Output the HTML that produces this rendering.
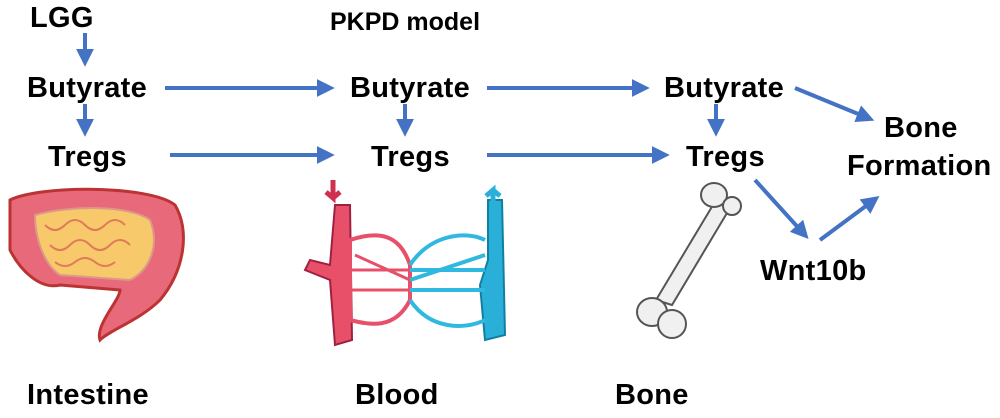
<!DOCTYPE html>
<html><head><meta charset="utf-8"><style>
html,body{margin:0;padding:0;background:#fff;}
body{width:1000px;height:418px;overflow:hidden;position:relative;font-family:"Liberation Sans",sans-serif;}
.t{position:absolute;font-weight:bold;font-size:29px;color:#000;white-space:nowrap;line-height:1;letter-spacing:0.3px;}
svg{position:absolute;left:0;top:0;}
</style></head><body>
<svg width="1000" height="418" viewBox="0 0 1000 418">
<defs><marker id="a" markerWidth="4.5" markerHeight="4.5" refX="2.8" refY="2.25" orient="auto" markerUnits="strokeWidth"><path d="M0,0 L4.5,2.25 L0,4.5 z" fill="#4472C4"/></marker></defs>
<g stroke="#4472C4" stroke-width="4" fill="none" marker-end="url(#a)">
<line x1="85" y1="33" x2="85" y2="60"/>
<line x1="85" y1="104" x2="85" y2="130"/>
<line x1="165" y1="88" x2="328" y2="88"/>
<line x1="170" y1="155" x2="328" y2="155"/>
<line x1="405" y1="104" x2="405" y2="130"/>
<line x1="487" y1="88" x2="643" y2="88"/>
<line x1="487" y1="155" x2="663" y2="155"/>
<line x1="716" y1="104" x2="716" y2="130"/>
<line x1="795" y1="88" x2="868" y2="118"/>
<line x1="755" y1="180" x2="804" y2="234"/>
<line x1="820" y1="240" x2="874" y2="200"/>
</g>
<g>
<path d="M10,200 C40,185 150,185 175,205 C190,230 185,270 160,300 C140,320 110,330 100,340 C95,325 120,300 120,290 L60,285 C40,290 20,270 10,250 Z" fill="#e86a7a" stroke="#b33" stroke-width="3"/>
<path d="M35,215 C70,205 130,205 150,220 C160,245 150,270 130,280 L60,275 C45,265 35,240 35,215 Z" fill="#f7c96a" stroke="#d98" stroke-width="2"/>
<path d="M45,225 q10,10 20,0 q10,-10 20,0 q10,10 20,0 q10,-10 20,0 M50,245 q10,10 20,0 q10,-10 20,0 q10,10 20,0 q10,-10 20,0 M55,262 q10,8 20,0 q10,-8 20,0 q10,8 20,0" stroke="#e07a5a" stroke-width="2" fill="none"/>
</g>
<g>
<path d="M335,205 L350,205 L352,340 L335,345 L330,280 L305,270 L310,260 L330,265 Z" fill="#e8506a" stroke="#a02040" stroke-width="2"/>
<path d="M488,200 L502,200 L505,335 L485,340 L480,285 L488,260 Z" fill="#2ab0d8" stroke="#1080a0" stroke-width="2"/>
<path d="M350,240 C380,230 400,235 410,265 L410,300 C395,330 370,325 350,320 Z" fill="none" stroke="#e8506a" stroke-width="4"/>
<path d="M350,270 L410,270 M350,290 L410,290 M355,255 L410,280" stroke="#e8506a" stroke-width="3"/>
<path d="M410,265 C430,235 465,230 485,240 M410,300 C430,330 465,330 485,320 M410,270 L485,270 M410,290 L485,290 M410,280 L485,255" fill="none" stroke="#30b8e0" stroke-width="4"/>
<path d="M333,180 L333,198 L326,192 M333,198 L340,192" stroke="#d03050" stroke-width="5" fill="none"/>
<path d="M493,208 L493,190 L486,196 M493,190 L500,196" stroke="#2ab0d8" stroke-width="5" fill="none"/>
</g>
<g fill="#f0f0f0" stroke="#555" stroke-width="2">
<path d="M716,200 L730,208 L672,305 L656,300 Z"/>
<ellipse cx="714" cy="195" rx="13" ry="12"/>
<ellipse cx="732" cy="206" rx="9" ry="9"/>
<ellipse cx="652" cy="312" rx="15" ry="14"/>
<ellipse cx="672" cy="324" rx="14" ry="14"/>
</g>
</svg>
<div class="t" style="left:30px;top:4px">LGG</div>
<div class="t" style="left:330px;top:10px;font-size:25px;letter-spacing:0">PKPD model</div>
<div class="t" style="left:27px;top:74px">Butyrate</div>
<div class="t" style="left:48px;top:143px">Tregs</div>
<div class="t" style="left:350px;top:74px">Butyrate</div>
<div class="t" style="left:371px;top:143px">Tregs</div>
<div class="t" style="left:664px;top:74px">Butyrate</div>
<div class="t" style="left:686px;top:143px">Tregs</div>
<div class="t" style="left:884px;top:114px">Bone</div>
<div class="t" style="left:847px;top:152px">Formation</div>
<div class="t" style="left:760px;top:257px">Wnt10b</div>
<div class="t" style="left:27px;top:381px">Intestine</div>
<div class="t" style="left:355px;top:381px">Blood</div>
<div class="t" style="left:615px;top:381px">Bone</div>
</body></html>
